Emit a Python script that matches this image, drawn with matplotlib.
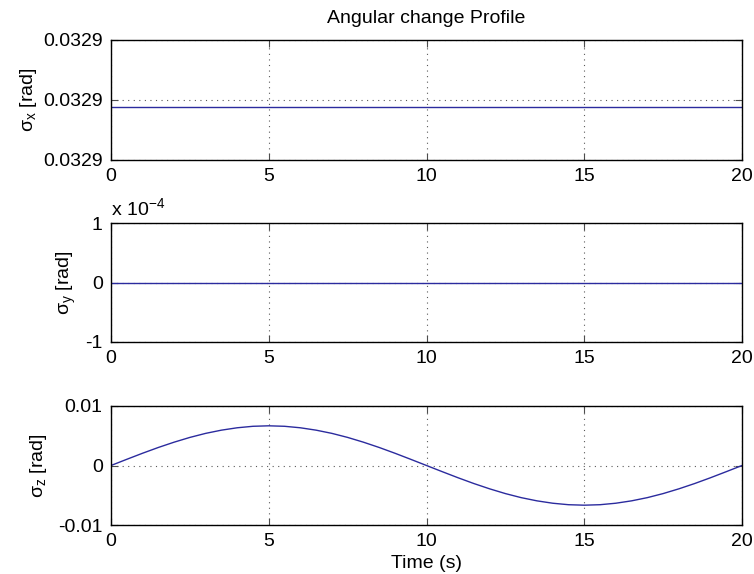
import matplotlib
matplotlib.use("Agg")
import matplotlib.pyplot as plt
from matplotlib.ticker import FuncFormatter

plt.rcParams["font.family"] = ["Liberation Sans", "DejaVu Sans"]
plt.rcParams["mathtext.fontset"] = "custom"
plt.rcParams["mathtext.rm"] = "Liberation Sans"
plt.rcParams["mathtext.it"] = "Liberation Sans"
plt.rcParams["font.size"] = 14

# data
t_flat = [0, 20]
sigma_x = [0.0328894, 0.0328894]
sigma_y = [0.0, 0.0]

t_z = [0, 0.5, 1, 1.5, 2, 2.5, 3, 3.5, 4, 4.5, 5, 5.5, 6, 6.5, 7, 7.5, 8, 8.5, 9, 9.5,
       10, 10.5, 11, 11.5, 12, 12.5, 13, 13.5, 14, 14.5, 15, 15.5, 16, 16.5, 17, 17.5,
       18, 18.5, 19, 19.5, 20]
sigma_z = [0, 0.00104, 0.00206, 0.00303, 0.00392, 0.00472, 0.00540, 0.00594, 0.00634, 0.00659,
           0.00667, 0.00659, 0.00634, 0.00594, 0.00540, 0.00472, 0.00392, 0.00303, 0.00206, 0.00104,
           0, -0.00104, -0.00206, -0.00303, -0.00392, -0.00472, -0.00540, -0.00594, -0.00634, -0.00659,
           -0.00667, -0.00659, -0.00634, -0.00594, -0.00540, -0.00472, -0.00392, -0.00303, -0.00206, -0.00104,
           0]

x_ticks = [0, 5, 10, 15, 20]
yticks_x = [0.032885, 0.03289, 0.032895]
yticks_y = [-1e-4, 0, 1e-4]
yticks_z = [-0.01, 0, 0.01]

LINE = "#2b2b9e"
W, H = 754, 574
left, right = 111 / W, 742 / W
boxes = [(40, 160), (223, 342), (406, 525)]

fig = plt.figure(figsize=(W / 100, H / 100), dpi=100)
axes = []
for top, bot in boxes:
    ax = fig.add_axes([left, 1 - bot / H, right - left, (bot - top) / H])
    axes.append(ax)

series = [(t_flat, sigma_x, yticks_x), (t_flat, sigma_y, yticks_y), (t_z, sigma_z, yticks_z)]
labels = ["σ$_{\\mathrm{x}}$ [rad]", "σ$_{\\mathrm{y}}$ [rad]", "σ$_{\\mathrm{z}}$ [rad]"]
label_x = [-0.114, -0.052, -0.098]

for ax, (tt, yy, yt), lab, lx in zip(axes, series, labels, label_x):
    ax.plot(tt, yy, color=LINE, lw=1.0)
    ax.set_xlim(0, 20)
    ax.set_ylim(yt[0], yt[-1])
    ax.set_xticks(x_ticks)
    ax.set_yticks(yt)
    ax.grid(True, color="0.35", linestyle=(0, (1, 4)), lw=0.8)
    ax.tick_params(direction="in", top=True, right=True, length=5, width=0.8,
                   color="0.3", labelsize=14, pad=6)
    for s in ax.spines.values():
        s.set_linewidth(1.0)
        s.set_color("black")
    ax.set_ylabel(lab, fontsize=14)
    ax.yaxis.set_label_coords(lx, 0.5)

axes[0].yaxis.set_major_formatter(FuncFormatter(lambda v, p: f"{v:.4f}"))
axes[1].yaxis.set_major_formatter(FuncFormatter(lambda v, p: f"{v / 1e-4:g}"))
axes[2].yaxis.set_major_formatter(FuncFormatter(lambda v, p: f"{v:g}"))
axes[1].text(0, 1.03, "x 10$^{-4}$", transform=axes[1].transAxes, ha="left", va="bottom", fontsize=14)

axes[0].set_title("Angular change Profile", fontsize=14, pad=12)
axes[2].set_xlabel("Time (s)", fontsize=14, labelpad=3)

fig.savefig("out.png", dpi=100)
